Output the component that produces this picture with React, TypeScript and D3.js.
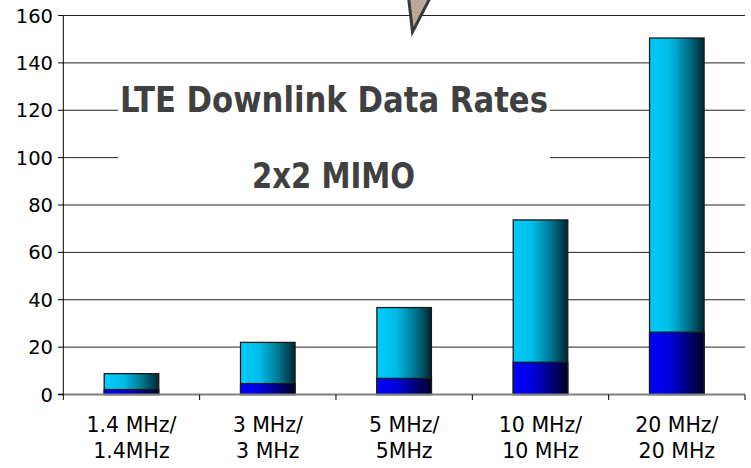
import React from "react";
import * as d3 from "d3";

const categories = ["1.4 MHz/|1.4MHz", "3 MHz/|3 MHz", "5 MHz/|5MHz", "10 MHz/|10 MHz", "20 MHz/|20 MHz"];
const totalRates = [8.8, 22, 36.7, 73.7, 150.5];
const baseRates = [2.1, 4.6, 6.8, 13.6, 26.3];
const yTicks = [0, 20, 40, 60, 80, 100, 120, 140, 160];
const titleLine1 = "LTE Downlink Data Rates";
const titleLine2 = "2x2 MIMO";

const W = 751;
const H = 468;

export default function App() {
  const x0 = 63.3;
  const x1 = 745;
  const y = d3.scaleLinear().domain([0, 160]).range([394.5, 15.5]);
  const x = d3.scaleBand<string>().domain(categories).range([x0, x1]).paddingInner(0.6).paddingOuter(0.3);
  const step = x.step();
  const bw = x.bandwidth();
  const font = "'DejaVu Sans', Verdana, sans-serif";
  const titleFont = "'DejaVu Sans Condensed', 'DejaVu Sans', sans-serif";

  return (
    <svg width={W} height={H} style={{ position: "absolute", left: 0, top: 0, background: "#fff" }}>
      <defs>
        <linearGradient id="gLight" x1="0" x2="1" y1="0" y2="0">
          <stop offset="0" stopColor="#00ccff" />
          <stop offset="0.35" stopColor="#00bde9" />
          <stop offset="0.7" stopColor="#00758f" />
          <stop offset="1" stopColor="#00262f" />
        </linearGradient>
        <linearGradient id="gDark" x1="0" x2="1" y1="0" y2="0">
          <stop offset="0" stopColor="#0000ff" />
          <stop offset="0.35" stopColor="#0000e0" />
          <stop offset="1" stopColor="#000028" />
        </linearGradient>
      </defs>

      {yTicks.filter((t) => t > 0).map((t) => (
        <line key={"g" + t} x1={x0} x2={x1} y1={y(t)} y2={y(t)} stroke="#222" strokeWidth={1} />
      ))}

      <rect x={118} y={80} width={432} height={112} fill="#fff" />
      <text x={334} y={112} textAnchor="middle" fontFamily={titleFont} fontWeight="bold" fontSize={35}
        fill="#404040" textLength={428} lengthAdjust="spacingAndGlyphs">{titleLine1}</text>
      <text x={333.5} y={188} textAnchor="middle" fontFamily={titleFont} fontWeight="bold" fontSize={36}
        fill="#404040" textLength={163} lengthAdjust="spacingAndGlyphs">{titleLine2}</text>

      {categories.map((c, i) => {
        const bx = x(c)!;
        return (
          <g key={c}>
            <rect x={bx} y={y(totalRates[i])} width={bw} height={y(0) - y(totalRates[i])}
              fill="url(#gLight)" stroke="#1a1a1a" strokeWidth={1.3} />
            <rect x={bx} y={y(baseRates[i])} width={bw} height={y(0) - y(baseRates[i])}
              fill="url(#gDark)" stroke="#1a1a1a" strokeWidth={1.3} />
          </g>
        );
      })}

      <line x1={58} x2={x1} y1={y(0)} y2={y(0)} stroke="#808080" strokeWidth={2} />
      {categories.map((c) => {
        const bx = x(c)! + bw + step * 0.3;
        return <line key={"xt" + c} x1={bx} x2={bx} y1={y(0)} y2={400} stroke="#000" strokeWidth={1} />;
      })}
      {categories.map((c) => {
        const [l1, l2] = c.split("|");
        const cx = x(c)! + bw / 2;
        return (
          <text key={"xl" + c} textAnchor="middle" fontFamily={font} fontSize={20.5} fill="#000">
            <tspan x={cx} y={432}>{l1}</tspan>
            <tspan x={cx} y={458}>{l2}</tspan>
          </text>
        );
      })}

      <line x1={x0} x2={x0} y1={y(160)} y2={400} stroke="#000" strokeWidth={1} />
      {yTicks.map((t) => (
        <g key={"yt" + t}>
          <line x1={58} x2={x0} y1={y(t)} y2={y(t)} stroke="#000" strokeWidth={1} />
          <text x={53} y={y(t) + 7} textAnchor="end" fontFamily={font} fontSize={19.5} fill="#000">{t}</text>
        </g>
      ))}

      <polygon points="408.5,-3 430.5,-3 412.5,32" fill="#b8a999" stroke="#3a3a3a" strokeWidth={3} strokeLinejoin="miter" />
    </svg>
  );
}
